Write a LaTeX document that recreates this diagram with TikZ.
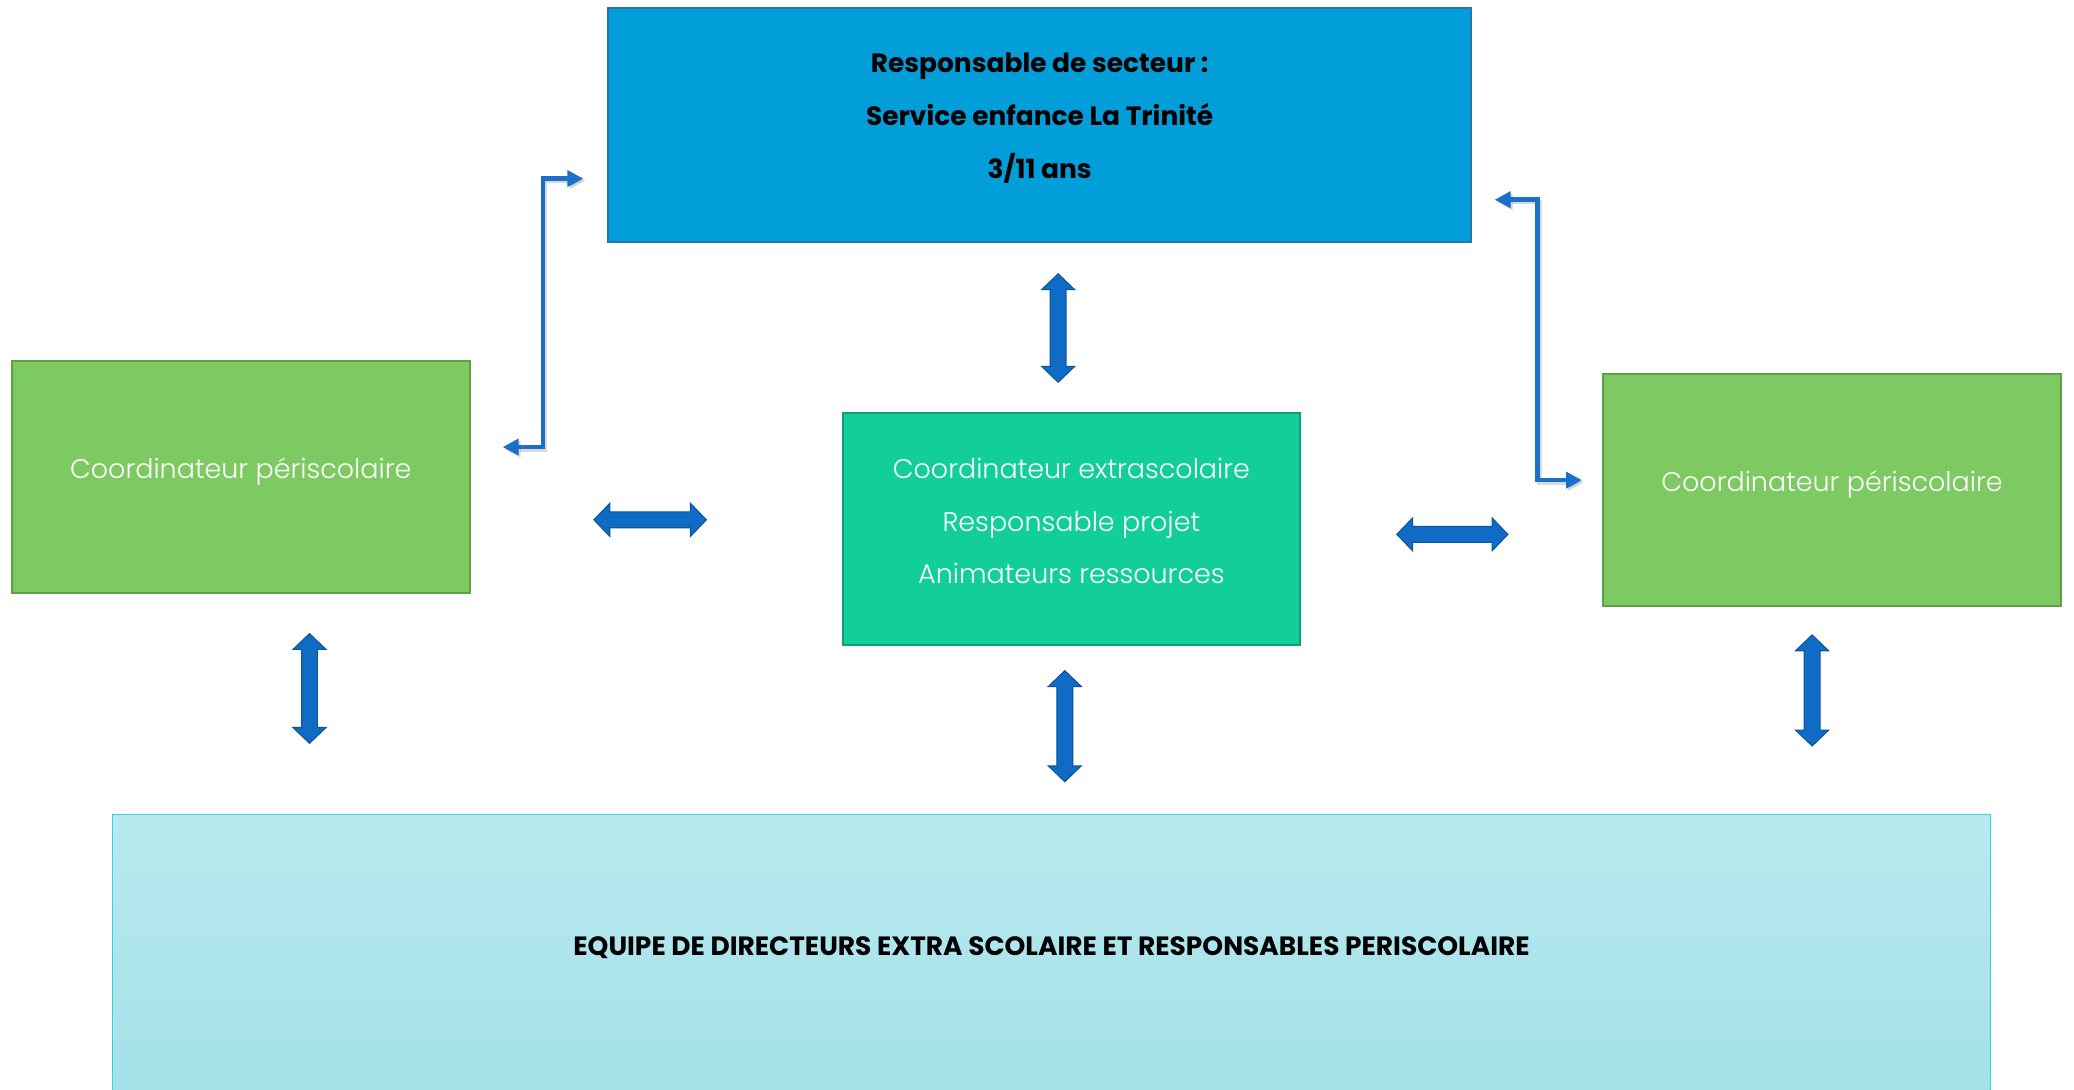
\documentclass[tikz,border=0pt]{standalone}
\usepackage{fontspec}
\setmainfont{Poppins}
\newfontfamily\lightfont{Poppins Light}
\usetikzlibrary{arrows.meta}
\definecolor{topblue}{HTML}{019ED9}
\definecolor{topborder}{HTML}{1C78AD}
\definecolor{cgreen}{HTML}{7DCA62}
\definecolor{cgreenb}{HTML}{5F9F47}
\definecolor{cteal}{HTML}{12CF9A}
\definecolor{ctealb}{HTML}{0F9E77}
\definecolor{btop}{HTML}{B9E9EE}
\definecolor{bbot}{HTML}{9EDFE8}
\definecolor{bbord}{HTML}{2DD5E2}
\definecolor{arrfill}{HTML}{0F6BC4}
\definecolor{arrbord}{HTML}{0B56A0}
\definecolor{elbowc}{HTML}{1B70C9}
\newcommand\dblarrowV[3]{\filldraw[blockarrow] (#1,#2) -- ({#1+12.5},{#2+12}) -- ({#1+6},{#2+12}) -- ({#1+6},{#3-12}) -- ({#1+12.5},{#3-12}) -- (#1,#3) -- ({#1-12.5},{#3-12}) -- ({#1-6},{#3-12}) -- ({#1-6},{#2+12}) -- ({#1-12.5},{#2+12}) -- cycle;}
\newcommand\dblarrowH[3]{\filldraw[blockarrow] (#2,#1) -- ({#2+12},{#1-12.5}) -- ({#2+12},{#1-6}) -- ({#3-12},{#1-6}) -- ({#3-12},{#1-12.5}) -- (#3,#1) -- ({#3-12},{#1+12.5}) -- ({#3-12},{#1+6}) -- ({#2+12},{#1+6}) -- ({#2+12},{#1+12.5}) -- cycle;}
\begin{document}
\begin{tikzpicture}[x=0.5pt,y=-0.5pt,
  box/.style={draw, rectangle, line width=0.75pt, inner sep=0pt, align=center},
  topbox/.style={box, fill=topblue, draw=topborder, minimum width=326pt, minimum height=88.5pt},
  greenbox/.style={box, fill=cgreen, draw=cgreenb, minimum width=173pt, minimum height=87.5pt},
  tealbox/.style={box, fill=cteal, draw=ctealb, minimum width=173pt, minimum height=88pt},
  bottombox/.style={box, top color=btop, bottom color=bbot, draw=bbord, line width=0.5pt, minimum width=710pt, minimum height=130pt},
  boldtxt/.style={font=\bfseries\fontsize{10}{20}\selectfont, text=black, align=center, inner sep=0pt},
  whitetxt/.style={font=\lightfont\fontsize{10.2}{19.75}\selectfont, text=white, align=center, inner sep=0pt},
  blockarrow/.style={fill=arrfill, draw=arrbord, line width=0.4pt, line join=miter},
  elbow/.style={draw=elbowc, line width=1.75pt, {Triangle[length=6pt,width=6pt]}-{Triangle[length=6pt,width=6pt]}},
  elbowshadow/.style={elbow, draw=black, opacity=0.15, transform canvas={shift={(0.8pt,-0.8pt)}}}
]
\useasboundingbox (0,0) rectangle (1568,824);
\fill[white] (0,0) rectangle (1568,824);
\clip (0,0) rectangle (1568,824);

% boxes
\node[topbox] (top) at (786,94.5) {};
\node[greenbox] (left) at (182,360.5) {};
\node[greenbox] (right) at (1385,370.5) {};
\node[tealbox] (center) at (810,400) {};
\node[bottombox] (bottom) at (795,746) {};

% texts
\node[boldtxt] (toptxt) at ([yshift=2.5pt]top.center) {Responsable de secteur :\\Service enfance La Trinité\\3/11 ans};
\node[whitetxt] (lefttxt) at ([yshift=2pt]left.center) {Coordinateur périscolaire};
\node[whitetxt] (righttxt) at ([yshift=2pt]right.center) {Coordinateur périscolaire};
\node[whitetxt] (centertxt) at ([yshift=3pt]center.center) {Coordinateur extrascolaire\\Responsable projet\\Animateurs ressources};
\node[boldtxt] (bottomtxt) at (795,716.5) {EQUIPE DE DIRECTEURS EXTRA SCOLAIRE ET RESPONSABLES PERISCOLAIRE};

% block double arrows
\dblarrowV{800}{207}{289}
\dblarrowH{393}{449}{534}
\dblarrowH{404}{1056}{1140}
\dblarrowV{234}{479}{562}
\dblarrowV{805}{507}{591}
\dblarrowV{1370}{480}{564}

% elbow connectors
\coordinate (lT) at (441,135);
\coordinate (lC1) at (410.5,135);
\coordinate (lC2) at (410.5,338);
\coordinate (lB) at (380,338);
\coordinate (rT) at (1130,151);
\coordinate (rC1) at (1162.5,151);
\coordinate (rC2) at (1162.5,363);
\coordinate (rB) at (1196,363);
\draw[elbowshadow] (lB) -- (lC2) -- (lC1) -- (lT);
\draw[elbowshadow] (rT) -- (rC1) -- (rC2) -- (rB);
\draw[elbow] (lB) -- (lC2) -- (lC1) -- (lT);
\draw[elbow] (rT) -- (rC1) -- (rC2) -- (rB);
\end{tikzpicture}
\end{document}
